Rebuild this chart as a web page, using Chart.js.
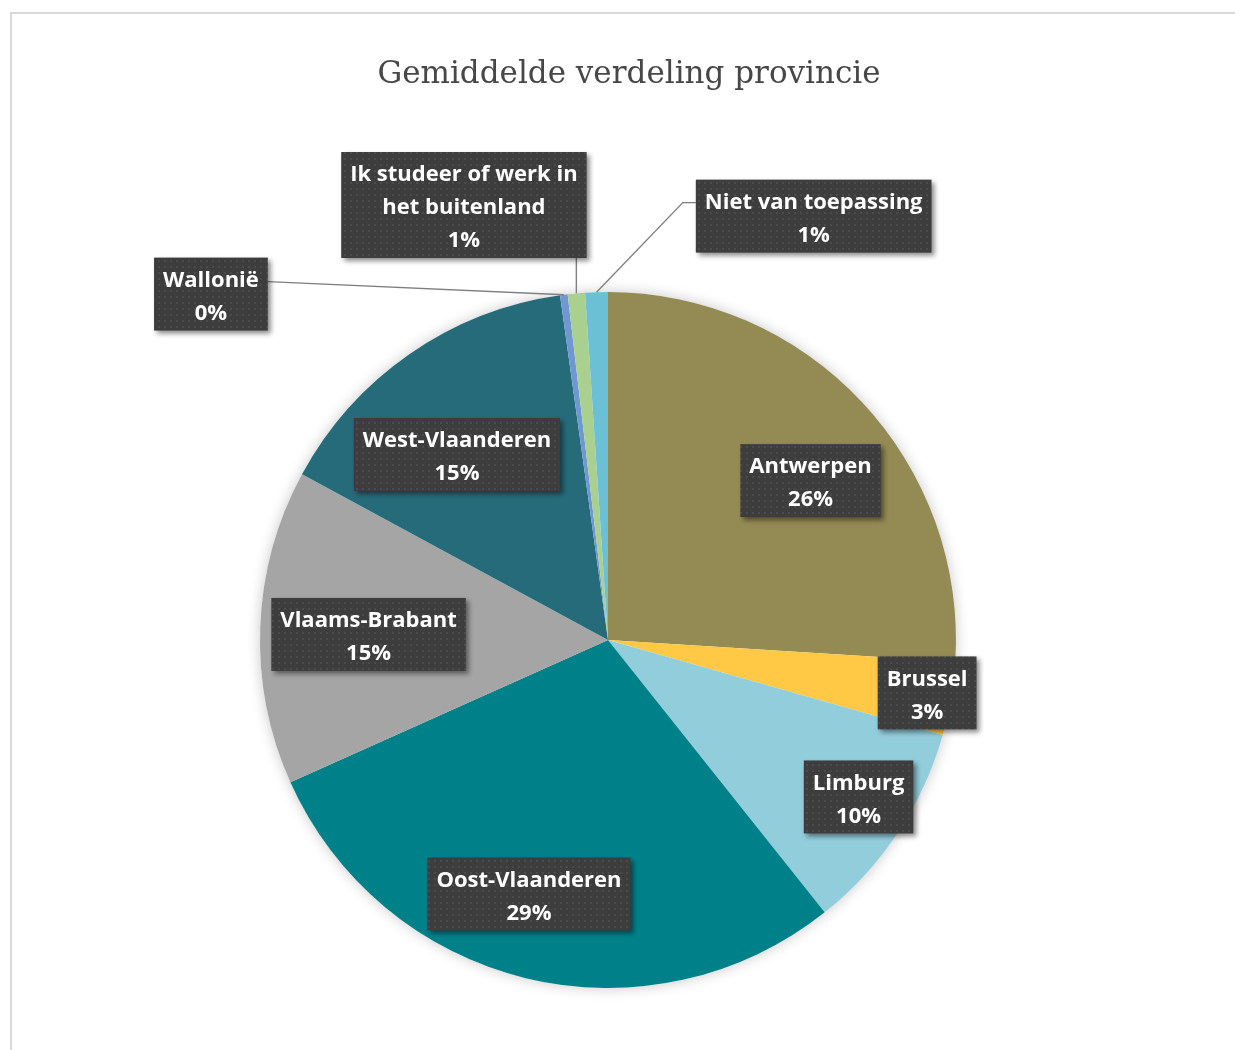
<!DOCTYPE html>
<html>
<head>
<meta charset="utf-8">
<script src="https://cdn.jsdelivr.net/npm/chart.js@4.4.1/dist/chart.umd.min.js"></script>
<style>
    html, body { margin: 0; padding: 0; background: #fff; overflow: hidden; }
    #frame { position: absolute; left: 10px; top: 12px; width: 1400px; height: 1200px;
             border-left: 2px solid #d9d9d9; border-top: 2px solid #d9d9d9; }
    #chart { position: absolute; left: 0; top: 0; }
</style>
</head>
<body>
<div id="frame"></div>
<canvas id="chart" width="1235" height="1050"></canvas>
<script>
// data
const chartTitle = 'Gemiddelde verdeling provincie';
const categories = ['Antwerpen', 'Brussel', 'Limburg', 'Oost-Vlaanderen', 'Vlaams-Brabant',
    'West-Vlaanderen', 'Wallonië', 'Ik studeer of werk in het buitenland', 'Niet van toepassing'];
const shares = [26.0, 3.4, 9.9, 29.0, 14.6, 14.9, 0.35, 0.8, 1.05];
const sliceColors = ['#948A54', '#FFC845', '#92CDDC', '#00818A', '#A5A5A5',
    '#256B7A', '#7197D2', '#A9D08E', '#6BC0D6'];

// label placement (offset from pie centre, in units of the radius)
const labelOffsets = [
    [0.582, -0.458], [0.917, 0.152], [0.720, 0.451], [-0.227, 0.730], [-0.688, -0.016],
    [-0.434, -0.533], [-1.141, -0.994], [-0.414, -1.250], [0.591, -1.218]
];
const leaders = [null, null, null, null, null, null, 'right', 'bottom', 'left'];

const total = shares.reduce((a, b) => a + b, 0);
const pct = i => Math.round(shares[i] / total * 100) + '%';

const wrap = (ctx, text, maxW) => {
    const words = text.split(' ');
    const lines = [];
    let cur = '';
    words.forEach(w => {
        const t = cur ? cur + ' ' + w : w;
        if (cur && ctx.measureText(t).width > maxW) { lines.push(cur); cur = w; }
        else cur = t;
    });
    if (cur) lines.push(cur);
    return lines;
};

// titel
const titlePlugin = {
    id: 'plainTitle',
    afterDraw(chart) {
        const ctx = chart.ctx;
        ctx.save();
        ctx.font = '31px "DejaVu Serif"';
        ctx.fillStyle = '#474747';
        ctx.textAlign = 'center';
        ctx.textBaseline = 'alphabetic';
        ctx.fillText(chartTitle, 629, 83);
        ctx.restore();
    }
};

// zachte schaduw rond de taart
const glowPlugin = {
    id: 'pieGlow',
    beforeDatasetsDraw(chart) {
        const arc = chart.getDatasetMeta(0).data[0];
        if (!arc) return;
        const ctx = chart.ctx;
        ctx.save();
        ctx.shadowColor = 'rgba(0,0,0,0.22)';
        ctx.shadowBlur = 14;
        ctx.fillStyle = '#ffffff';
        ctx.beginPath();
        ctx.arc(arc.x, arc.y, arc.outerRadius, 0, Math.PI * 2);
        ctx.fill();
        ctx.restore();
    }
};

// donkere labelvakjes
const labelPlugin = {
    id: 'boxLabels',
    afterDatasetsDraw(chart) {
        const ctx = chart.ctx;
        const meta = chart.getDatasetMeta(0);
        const cx = meta.data[0].x, cy = meta.data[0].y, r = meta.data[0].outerRadius;

        const pc = document.createElement('canvas');
        pc.width = 6; pc.height = 6;
        const p = pc.getContext('2d');
        p.fillStyle = '#3d3d3d'; p.fillRect(0, 0, 6, 6);
        p.fillStyle = '#4b4b4b'; p.fillRect(2, 2, 2, 2);
        const pattern = ctx.createPattern(pc, 'repeat');

        ctx.save();
        ctx.font = 'bold 22px "Open Sans"';
        meta.data.forEach((arc, i) => {
            const lines = wrap(ctx, categories[i], 236).concat(pct(i));
            const w = Math.max(...lines.map(l => ctx.measureText(l).width)) + 18;
            const h = lines.length * 33 + 7;
            const bx = cx + labelOffsets[i][0] * r - w / 2;
            const by = cy + labelOffsets[i][1] * r - h / 2;

            const ld = leaders[i];
            if (ld) {
                const mid = (arc.startAngle + arc.endAngle) / 2;
                const px = cx + Math.cos(mid) * r, py = cy + Math.sin(mid) * r;
                ctx.strokeStyle = '#7f7f7f';
                ctx.lineWidth = 1.4;
                ctx.beginPath();
                ctx.moveTo(px, py);
                if (ld === 'right') ctx.lineTo(bx + w, by + 24);
                else if (ld === 'bottom') ctx.lineTo(px, by + h);
                else { ctx.lineTo(bx - 13, by + 23); ctx.lineTo(bx, by + 23); }
                ctx.stroke();
            }

            ctx.save();
            ctx.shadowColor = 'rgba(0,0,0,0.45)';
            ctx.shadowOffsetX = 3;
            ctx.shadowOffsetY = 3;
            ctx.shadowBlur = 5;
            ctx.fillStyle = pattern;
            ctx.fillRect(bx, by, w, h);
            ctx.restore();

            ctx.fillStyle = '#ffffff';
            ctx.textAlign = 'center';
            ctx.textBaseline = 'middle';
            lines.forEach((l, k) => {
                ctx.fillText(l, bx + w / 2, by + h / 2 + (k - (lines.length - 1) / 2) * 33 + 3);
            });
        });
        ctx.restore();
    }
};

const ctx = document.getElementById('chart').getContext('2d');
new Chart(ctx, {
    type: 'pie',
    data: {
        labels: categories,
        datasets: [{
            data: shares,
            backgroundColor: sliceColors,
            borderWidth: 0
        }]
    },
    options: {
        responsive: false,
        animation: false,
        layout: { padding: { top: 292, left: 260, right: 279, bottom: 62 } },
        plugins: {
            legend: { display: false },
            tooltip: { enabled: false }
        }
    },
    plugins: [glowPlugin, labelPlugin, titlePlugin]
});
</script>
</body>
</html>
